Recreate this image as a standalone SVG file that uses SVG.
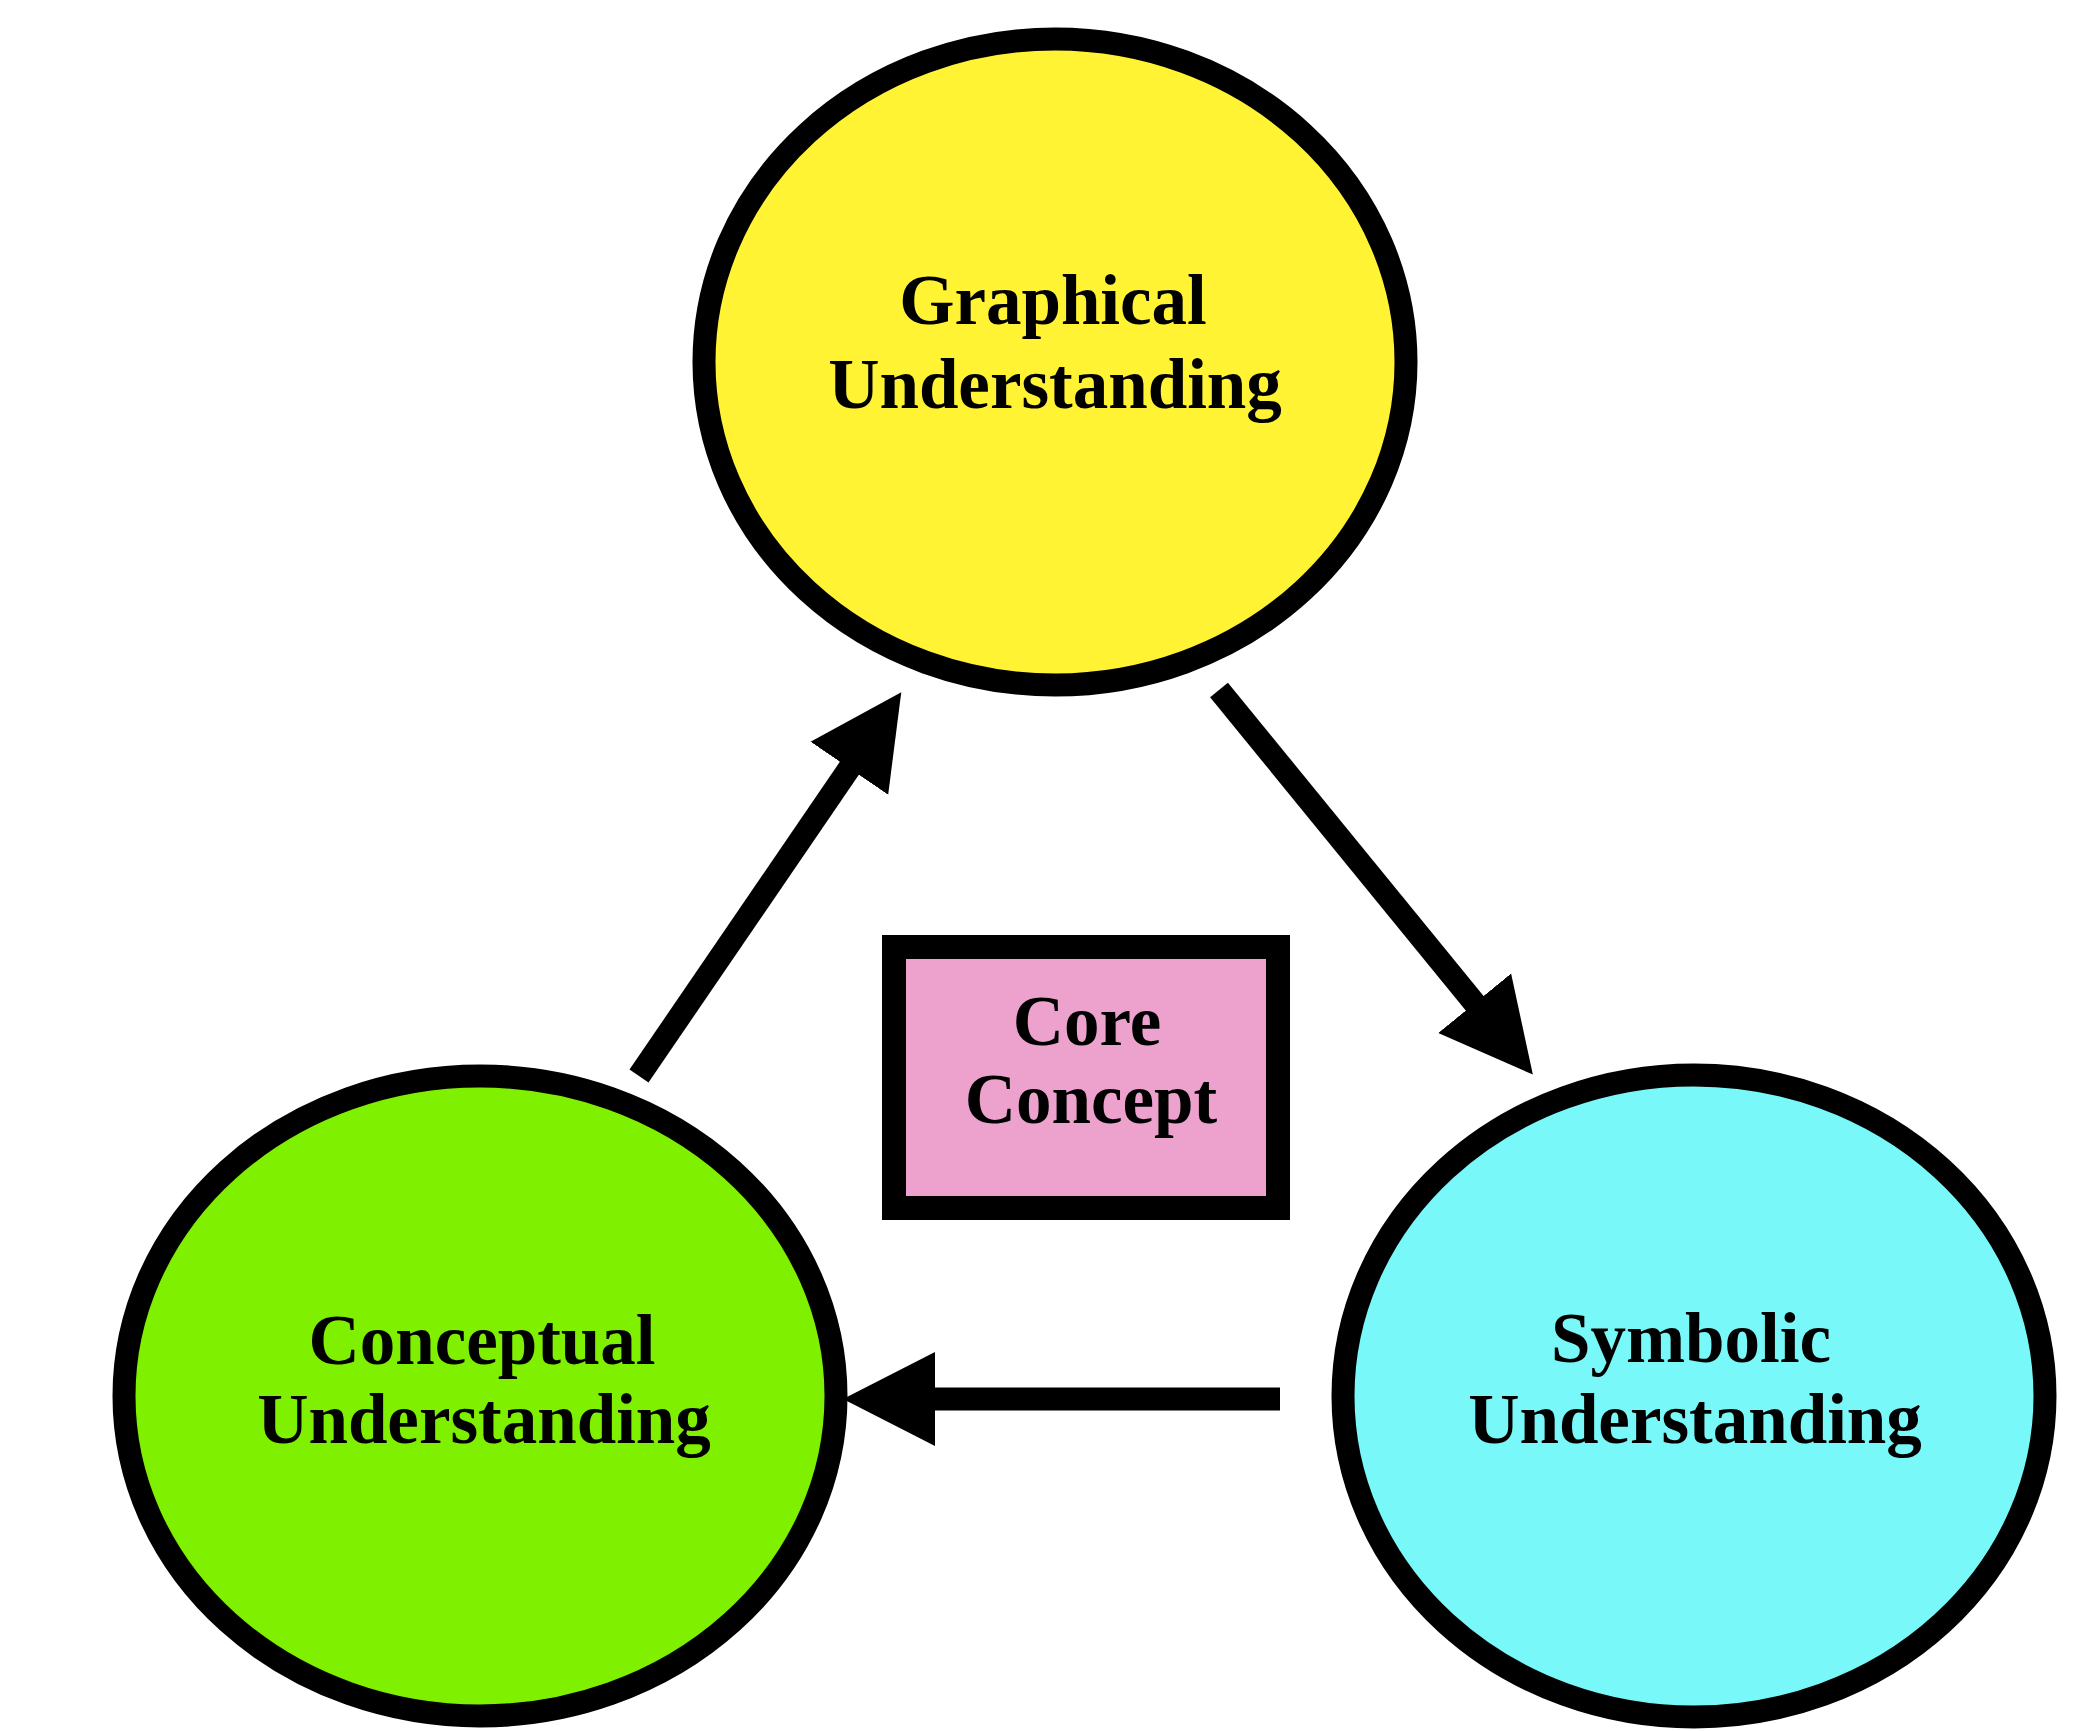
<svg xmlns="http://www.w3.org/2000/svg" width="2096" height="1731" viewBox="0 0 2096 1731">
  <style>
    .node { stroke: #000; stroke-width: 23; }
    .lbl { font-family: "Liberation Serif", "Times New Roman", serif; font-weight: bold; font-size: 71px; fill: #000; text-anchor: middle; }
    .conn { stroke: #000; stroke-width: 23; fill: none; stroke-linecap: butt; }
  </style>
  <defs>
    <marker id="arrow" markerUnits="userSpaceOnUse" markerWidth="92" markerHeight="96" viewBox="0 0 92 96" refX="10" refY="48" orient="auto">
      <path d="M0,1 L92,48 L0,95 Z" fill="#000"/>
    </marker>
  </defs>
  <rect width="2096" height="1731" fill="#fff"/>

  <g id="connectors">
    <line class="conn" x1="639" y1="1076" x2="855" y2="760" marker-end="url(#arrow)"/>
    <line class="conn" x1="1219" y1="690" x2="1481" y2="1011" marker-end="url(#arrow)"/>
    <line class="conn" x1="1280" y1="1399" x2="925" y2="1399" marker-end="url(#arrow)"/>
  </g>

  <g id="graphical">
    <ellipse class="node" cx="1055" cy="362" rx="351" ry="323" fill="#FFF334"/>
    <text class="lbl" x="1053" y="324">Graphical</text>
    <text class="lbl" x="1055" y="408">Understanding</text>
  </g>

  <g id="conceptual">
    <ellipse class="node" cx="480" cy="1396" rx="356" ry="320" fill="#7FF000"/>
    <text class="lbl" x="482" y="1364">Conceptual</text>
    <text class="lbl" x="484" y="1443">Understanding</text>
  </g>

  <g id="symbolic">
    <ellipse class="node" cx="1694" cy="1396" rx="351" ry="321" fill="#78F8F8"/>
    <text class="lbl" x="1691" y="1362">Symbolic</text>
    <text class="lbl" x="1695" y="1443">Understanding</text>
  </g>

  <g id="core">
    <rect x="894" y="947" width="384" height="261" fill="#EDA1CD" stroke="#000" stroke-width="24"/>
    <text class="lbl" x="1087" y="1045">Core</text>
    <text class="lbl" x="1091" y="1123">Concept</text>
  </g>
</svg>
